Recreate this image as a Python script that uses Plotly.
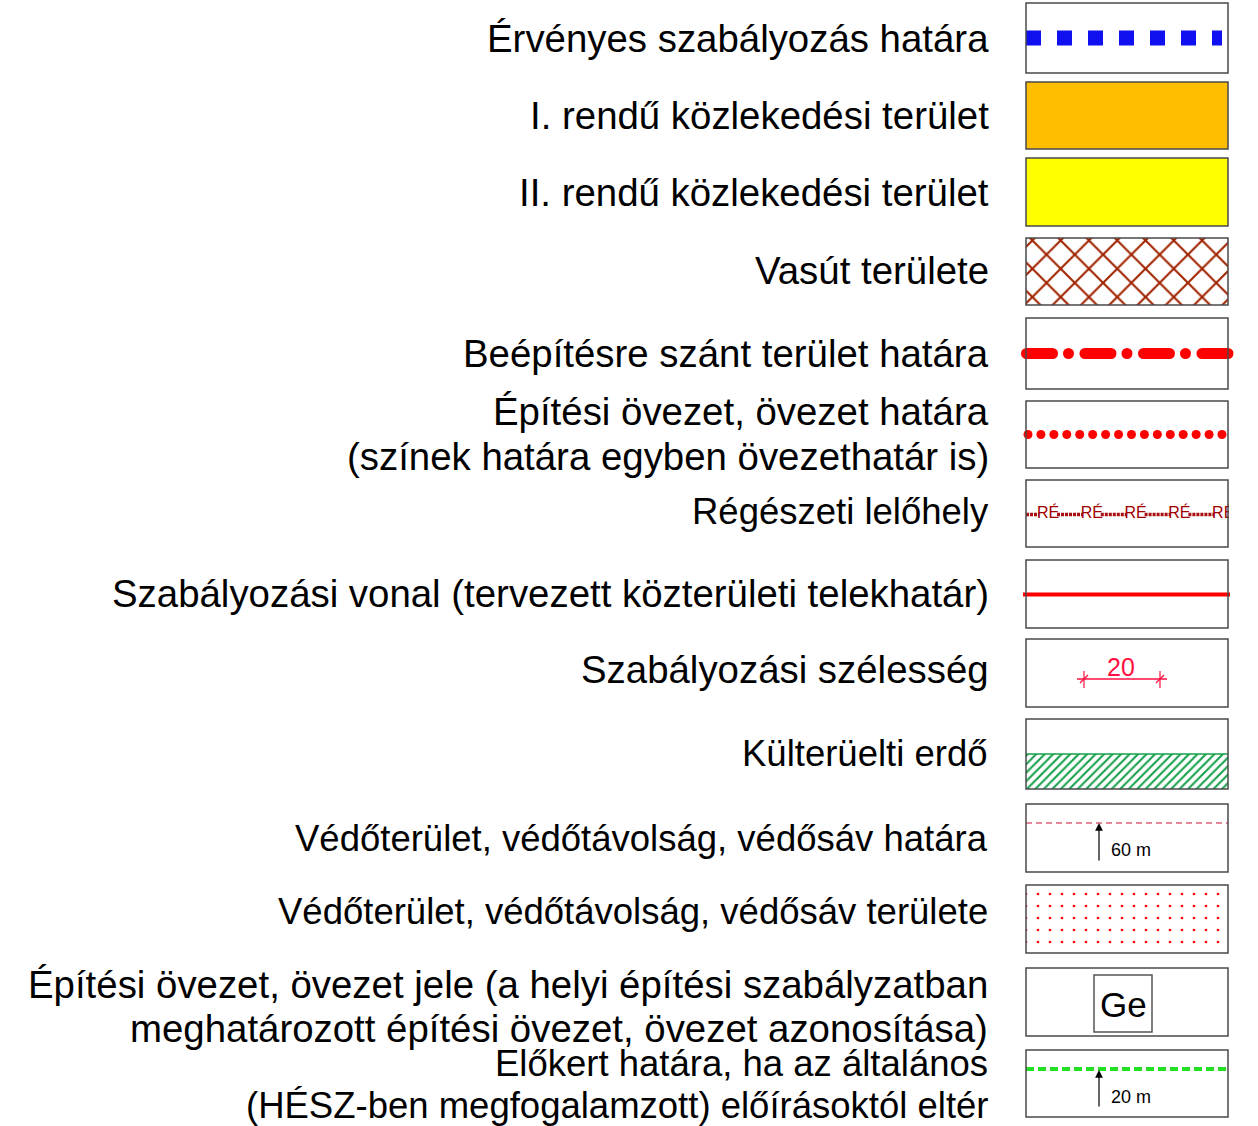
import plotly.graph_objects as go

# ---------------- data ----------------
labels = [
    ["Érvényes szabályozás határa"],
    ["I. rendű közlekedési terület"],
    ["II. rendű közlekedési terület"],
    ["Vasút területe"],
    ["Beépítésre szánt terület határa"],
    ["Építési övezet, övezet határa", "(színek határa egyben övezethatár is)"],
    ["Régészeti lelőhely"],
    ["Szabályozási vonal (tervezett közterületi telekhatár)"],
    ["Szabályozási szélesség"],
    ["Külterüelti erdő"],
    ["Védőterület, védőtávolság, védősáv határa"],
    ["Védőterület, védőtávolság, védősáv területe"],
    ["Építési övezet, övezet jele (a helyi építési szabályzatban",
     "meghatározott építési övezet, övezet azonosítása)"],
    ["Előkert határa, ha az általános",
     "(HÉSZ-ben megfogalamzott) előírásoktól eltér"],
]
swatch_kinds = ["blue_dash", "orange", "yellow", "rail", "dashdot", "dots",
                "regeszeti", "solid", "width", "forest", "buffer_line",
                "buffer_area", "zone_code", "front_yard"]
width_label = "20"
buffer_label = "60 m"
front_label = "20 m"
zone_code = "Ge"
arch_code = "RÉ"

# ---------------- layout (pixels) ----------------
W, H = 1258, 1126
BOX_X0, BOX_X1 = 1026, 1228
box_top = [3, 82, 158, 238, 318, 401, 480, 560, 639, 719, 804, 885, 968, 1050]
box_bot = [73, 149, 226, 305, 389, 468, 547, 628, 707, 789, 872, 953, 1036, 1117]
text_y = [[38], [115], [192], [270], [353], [411, 456], [511], [593], [669],
          [753], [838], [911], [984, 1028], [1063, 1105]]
label_size = [38.4, 38.4, 38.4, 38.4, 38.4, 38.4, 36.5, 38.4, 38.4,
              36.5, 36.5, 36.5, 38.4, 36.5]
text_x = [991, 991, 991, 991, 991, 991, 991, 991, 991, 990, 990, 990, 990, 990]
FONT = "Liberation Sans, Arial, sans-serif"

fig = go.Figure()
shapes = []
annotations = []

def mid(i):
    return (box_top[i] + box_bot[i]) / 2

# labels
for lines, ys, fs, tx in zip(labels, text_y, label_size, text_x):
    for line, y in zip(lines, ys):
        annotations.append(dict(x=tx, y=y, xref="x", yref="y", text=line,
                                showarrow=False, xanchor="right", yanchor="middle",
                                font=dict(family=FONT, size=fs, color="black")))

for i, kind in enumerate(swatch_kinds):
    t, b = box_top[i], box_bot[i]
    cy = mid(i)
    if kind == "blue_dash":
        fig.add_trace(go.Scatter(x=[BOX_X0, BOX_X1 - 6], y=[cy, cy], mode="lines",
                                 line=dict(color="#1010f0", width=15, dash="15px,16px"),
                                 hoverinfo="skip"))
    elif kind == "orange":
        shapes.append(dict(type="rect", x0=BOX_X0, x1=BOX_X1, y0=t, y1=b,
                           fillcolor="#ffbe00", line=dict(width=0)))
    elif kind == "yellow":
        shapes.append(dict(type="rect", x0=BOX_X0, x1=BOX_X1, y0=t, y1=b,
                           fillcolor="#ffff00", line=dict(width=0)))
    elif kind == "rail":
        fig.add_trace(go.Scatter(x=[BOX_X0, BOX_X1, BOX_X1, BOX_X0, BOX_X0],
                                 y=[t, t, b, b, t], mode="lines", fill="toself",
                                 line=dict(width=0), fillcolor="white",
                                 fillpattern=dict(shape="x", fgcolor="#a02400",
                                                  fgopacity=1, bgcolor="white",
                                                  size=20, solidity=0.2),
                                 hoverinfo="skip"))
    elif kind == "dashdot":
        lx, ly, mx, my = [], [], [], []
        period = 58.5
        for k in range(4):
            s = BOX_X0 - 5 + k * period
            lx += [s + 5.5, s + 31.5, None]
            ly += [cy, cy, None]
            mx += [s + 5.5, s + 31.5]
            my += [cy, cy]
            if k < 3:
                mx.append(s + 47.5)
                my.append(cy)
        fig.add_trace(go.Scatter(x=lx, y=ly, mode="lines",
                                 line=dict(color="#ff0000", width=11), hoverinfo="skip"))
        fig.add_trace(go.Scatter(x=mx, y=my, mode="markers",
                                 marker=dict(color="#ff0000", size=11, line=dict(width=0)),
                                 hoverinfo="skip"))
    elif kind == "dots":
        n = 16
        x0, x1 = BOX_X0 + 2, BOX_X1 - 6
        xs = [x0 + (x1 - x0) * k / (n - 1) for k in range(n)]
        fig.add_trace(go.Scatter(x=xs, y=[cy] * n, mode="markers",
                                 marker=dict(color="#ff0000", size=9, line=dict(width=0)),
                                 hoverinfo="skip"))
    elif kind == "regeszeti":
        ly_ = cy + 1
        centers = [BOX_X0 + 22 + 43.8 * k for k in range(5)]
        seg_x, seg_y = [], []
        prev = BOX_X0
        for c in centers:
            seg_x += [prev, c - 9, None]
            seg_y += [ly_, ly_, None]
            prev = c + 9
        fig.add_trace(go.Scatter(x=seg_x, y=seg_y, mode="lines",
                                 line=dict(color="#a81010", width=3.5, dash="3px,1px"),
                                 hoverinfo="skip"))
        fig.add_trace(go.Scatter(x=centers, y=[cy] * 5, mode="text",
                                 text=[arch_code] * 5,
                                 textfont=dict(family=FONT, size=16, color="#a00000"),
                                 hoverinfo="skip"))
        shapes.append(dict(type="rect", x0=BOX_X1 + 1, x1=W, y0=t - 2, y1=b + 2,
                           fillcolor="white", line=dict(width=0), layer="above"))
    elif kind == "solid":
        fig.add_trace(go.Scatter(x=[BOX_X0 - 3, BOX_X1 + 2], y=[cy + 0.5, cy + 0.5],
                                 mode="lines", line=dict(color="#ff0000", width=4),
                                 hoverinfo="skip"))
    elif kind == "width":
        col = "#ff1040"
        yl = t + 40
        shapes.append(dict(type="line", x0=BOX_X0 + 51, x1=BOX_X0 + 141, y0=yl, y1=yl,
                           line=dict(color=col, width=1.5)))
        for xt in (BOX_X0 + 58, BOX_X0 + 134):
            shapes.append(dict(type="line", x0=xt, x1=xt, y0=yl - 8, y1=yl + 9,
                               line=dict(color=col, width=1.2)))
            shapes.append(dict(type="line", x0=xt - 4, x1=xt + 4, y0=yl + 4, y1=yl - 4,
                               line=dict(color=col, width=1.2)))
        annotations.append(dict(x=BOX_X0 + 95, y=yl - 12, xref="x", yref="y",
                                text=width_label, showarrow=False, xanchor="center",
                                yanchor="middle",
                                font=dict(family=FONT, size=25, color=col)))
    elif kind == "forest":
        hy = t + 35
        fig.add_trace(go.Scatter(x=[BOX_X0, BOX_X1, BOX_X1, BOX_X0, BOX_X0],
                                 y=[hy, hy, b, b, hy], mode="lines", fill="toself",
                                 line=dict(width=0), fillcolor="white",
                                 fillpattern=dict(shape="/", fgcolor="#16a04c",
                                                  fgopacity=1, bgcolor="white",
                                                  size=6, solidity=0.35),
                                 hoverinfo="skip"))
        shapes.append(dict(type="line", x0=BOX_X0, x1=BOX_X1, y0=hy, y1=hy,
                           line=dict(color="#16a04c", width=1.5)))
    elif kind == "buffer_line":
        ly_ = t + 19
        fig.add_trace(go.Scatter(x=[BOX_X0, BOX_X1], y=[ly_, ly_], mode="lines",
                                 line=dict(color="#d0103a", width=1.2, dash="6px,4px"),
                                 hoverinfo="skip"))
        annotations.append(dict(x=BOX_X0 + 73, y=ly_, ax=BOX_X0 + 73, ay=b - 10,
                                xref="x", yref="y", axref="x", ayref="y", text="",
                                showarrow=True, arrowhead=2, arrowsize=1.3,
                                arrowwidth=1.2, arrowcolor="black"))
        annotations.append(dict(x=BOX_X0 + 83, y=b - 22, xref="x", yref="y",
                                text=buffer_label, showarrow=False, xanchor="left",
                                yanchor="middle",
                                font=dict(family=FONT, size=18, color="black")))
    elif kind == "buffer_area":
        fig.add_trace(go.Scatter(x=[BOX_X0, BOX_X1, BOX_X1, BOX_X0, BOX_X0],
                                 y=[t, t, b, b, t], mode="lines", fill="toself",
                                 line=dict(width=0), fillcolor="white",
                                 fillpattern=dict(shape=".", fgcolor="#ff0000",
                                                  fgopacity=1, bgcolor="white",
                                                  size=12, solidity=0.04),
                                 hoverinfo="skip"))
    elif kind == "zone_code":
        shapes.append(dict(type="rect", x0=BOX_X0 + 68, x1=BOX_X0 + 126, y0=t + 7,
                           y1=b - 4, line=dict(color="#555555", width=1.5),
                           fillcolor="rgba(0,0,0,0)"))
        annotations.append(dict(x=BOX_X0 + 97, y=t + 36, xref="x", yref="y",
                                text=zone_code, showarrow=False, xanchor="center",
                                yanchor="middle",
                                font=dict(family=FONT, size=35, color="black")))
    elif kind == "front_yard":
        ly_ = t + 19
        fig.add_trace(go.Scatter(x=[BOX_X0, BOX_X1 + 2], y=[ly_, ly_], mode="lines",
                                 line=dict(color="#22e022", width=4, dash="8px,4px"),
                                 hoverinfo="skip"))
        annotations.append(dict(x=BOX_X0 + 73, y=ly_ + 1, ax=BOX_X0 + 73, ay=b - 9,
                                xref="x", yref="y", axref="x", ayref="y", text="",
                                showarrow=True, arrowhead=2, arrowsize=1.3,
                                arrowwidth=1.2, arrowcolor="black"))
        annotations.append(dict(x=BOX_X0 + 83, y=b - 20, xref="x", yref="y",
                                text=front_label, showarrow=False, xanchor="left",
                                yanchor="middle",
                                font=dict(family=FONT, size=18, color="black")))

# box borders (on top)
for i in range(len(swatch_kinds)):
    shapes.append(dict(type="rect", x0=BOX_X0, x1=BOX_X1, y0=box_top[i], y1=box_bot[i],
                       line=dict(color="#4a4a4a", width=1.5),
                       fillcolor="rgba(0,0,0,0)", layer="above"))

fig.update_layout(
    width=W, height=H, margin=dict(l=0, r=0, t=0, b=0),
    paper_bgcolor="white", plot_bgcolor="white", showlegend=False,
    xaxis=dict(range=[0, W], visible=False, fixedrange=True),
    yaxis=dict(range=[H, 0], visible=False, fixedrange=True),
    shapes=shapes, annotations=annotations,
)
fig.write_html("out.html", config={"displayModeBar": False},
               post_script="document.body.style.margin='0';"
                           "document.body.style.overflow='hidden';")
